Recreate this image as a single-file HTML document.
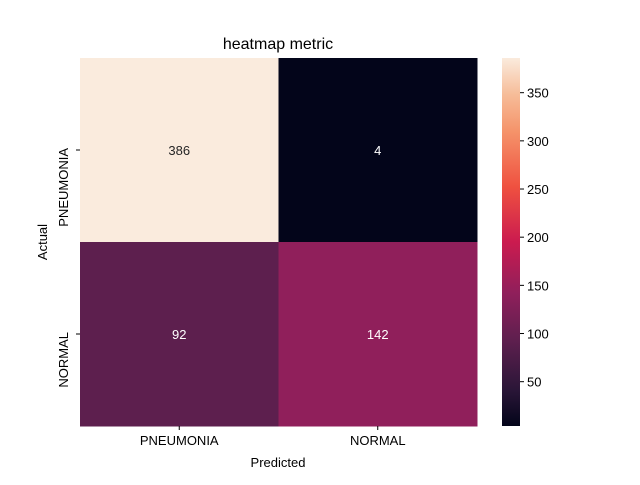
<!DOCTYPE html>
<html><head><meta charset="utf-8"><style>
body{margin:0;background:#fff;}
svg text{font-family:"Liberation Sans","DejaVu Sans",sans-serif;}
</style></head><body>
<svg id="chart" width="640" height="480" xmlns="http://www.w3.org/2000/svg">
<defs>
<linearGradient id="rocket" x1="0" y1="1" x2="0" y2="0">
<stop offset="0" stop-color="#03051a"/>
<stop offset="0.1" stop-color="#2b1638"/>
<stop offset="0.23" stop-color="#5d1f4e"/>
<stop offset="0.36" stop-color="#8f1f5b"/>
<stop offset="0.5" stop-color="#cb1b4f"/>
<stop offset="0.65" stop-color="#ef5140"/>
<stop offset="0.8" stop-color="#f5936a"/>
<stop offset="0.9" stop-color="#f6bc98"/>
<stop offset="1" stop-color="#faebdd"/>
</linearGradient>
</defs>
<text x="278" y="49" font-size="16" text-anchor="middle">heatmap metric</text>
<g id="cells"></g>
<rect x="502" y="58" width="18" height="368" fill="url(#rocket)"/>
<g id="cbticks"></g>
<g id="axes"></g>
<text x="278" y="467" font-size="13" text-anchor="middle">Predicted</text>
<text x="47" y="242" font-size="13" text-anchor="middle" transform="rotate(-90 47 242)">Actual</text>
</svg>
<script>
const labels = ["PNEUMONIA", "NORMAL"];
const values = [[386, 4], [92, 142]];
const cbTicks = [50, 100, 150, 200, 250, 300, 350];
const NS = "http://www.w3.org/2000/svg";
const X0 = 80, X1 = 477, Y0 = 58, Y1 = 426;
const flat = values.flat();
const vmin = Math.min(...flat), vmax = Math.max(...flat);
const stops = [[0,[3,5,26]],[0.1,[43,22,56]],[0.23,[93,31,78]],[0.36,[143,31,91]],[0.5,[203,27,79]],[0.65,[239,81,64]],[0.8,[245,147,106]],[0.9,[246,188,152]],[1,[250,235,221]]];
function color(v){
  const t = (v - vmin) / (vmax - vmin);
  for (let i = 1; i < stops.length; i++) {
    if (t <= stops[i][0]) {
      const a = stops[i-1], b = stops[i], f = (t - a[0]) / (b[0] - a[0]);
      const c = a[1].map((x, k) => Math.round(x + (b[1][k] - x) * f));
      return `rgb(${c})`;
    }
  }
  return "rgb(250,235,221)";
}
const n = labels.length, cw = (X1 - X0) / n, ch = (Y1 - Y0) / n;
const cells = document.getElementById("cells"), axes = document.getElementById("axes"), cb = document.getElementById("cbticks");
function mk(tag, attrs, parent){ const e = document.createElementNS(NS, tag); for (const k in attrs) e.setAttribute(k, attrs[k]); parent.appendChild(e); return e; }
values.forEach((row, r) => row.forEach((v, c) => {
  const rect = mk("rect", {x: X0 + c*cw, y: Y0 + r*ch, width: cw + 0.5, height: ch + 0.5, fill: color(v)}, cells);
  
  
  const t = mk("text", {x: X0 + (c+0.5)*cw, y: Y0 + (r+0.5)*ch + 5, "font-size": 13, "text-anchor": "middle", fill: (v - vmin)/(vmax - vmin) > 0.6 ? "#262626" : "#fff"}, cells);
  t.textContent = v;
  
  
}));
labels.forEach((l, i) => {
  const x = X0 + (i+0.5)*cw;
  mk("line", {x1: x, x2: x, y1: Y1, y2: Y1 + 4, stroke: "#000"}, axes);
  const t = mk("text", {x: x, y: Y1 + 19, "font-size": 13, "text-anchor": "middle"}, axes);
  t.textContent = l;
  
  
  const y = Y0 + (i+0.5)*ch;
  mk("line", {x1: X0 - 4, x2: X0, y1: y, y2: y, stroke: "#000"}, axes);
  const t2 = mk("text", {x: 68, y: y - 2, "font-size": 13, "text-anchor": "end", transform: `rotate(-90 68 ${y - 2})`}, axes);
  t2.textContent = l;
  
  
});
cbTicks.forEach(v => {
  const y = Y1 - (v - vmin) / (vmax - vmin) * (Y1 - Y0);
  mk("line", {x1: 520, x2: 524, y1: y, y2: y, stroke: "#000"}, cb);
  const t = mk("text", {x: 527, y: y + 5, "font-size": 13}, cb);
  t.textContent = v;
  
  
});
</script>
</body></html>
